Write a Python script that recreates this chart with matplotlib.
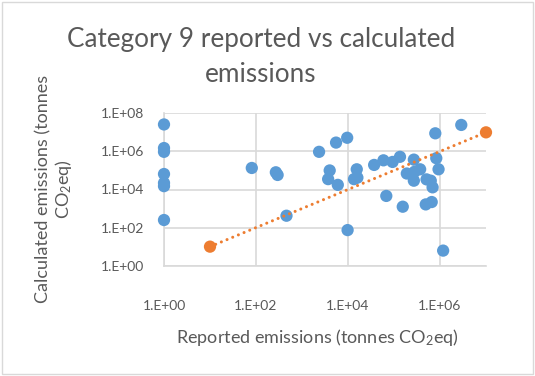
import math
import matplotlib
matplotlib.use("Agg")
import matplotlib.pyplot as plt
from matplotlib.ticker import FixedLocator, FuncFormatter, NullLocator
from matplotlib.patches import Rectangle

# reported (x) vs calculated (y) emissions, tonnes CO2eq
reported = [1, 1, 1, 1, 1, 1, 1,
            81, 270, 295, 460,
            2350, 5500, 9600, 9800, 4000, 3700, 6000,
            1.55e4, 1.35e4, 1.6e4, 3.7e4, 5.9e4, 9.3e4, 1.35e5,
            2.7e5, 1.9e5, 2.8e5, 3.7e5, 2.7e5, 5.1e5, 6.3e5, 6.9e5,
            7.9e5, 2.9e6, 8.3e5, 9.3e5,
            6.8e4, 1.55e5, 4.9e5, 6.6e5, 1.17e6]
calculated = [2.6e7, 1.5e6, 9.5e5, 6.5e4, 2.2e4, 1.5e4, 250,
              1.35e5, 8e4, 5.8e4, 420,
              9.5e5, 2.9e6, 5.2e6, 74, 1.0e5, 3.5e4, 1.75e4,
              1.15e5, 3.5e4, 4.2e4, 1.95e5, 3.4e5, 2.8e5, 5.2e5,
              3.7e5, 6.9e4, 8.5e4, 1.15e5, 2.9e4, 3.4e4, 2.9e4, 1.3e4,
              8.9e6, 2.45e7, 4.4e5, 1.15e5,
              4.6e3, 1.25e3, 1.65e3, 2.2e3, 6.2]

# 1:1 reference line end points
line_x = [10, 1e7]
line_y = [10, 1e7]

x_ticks = [1, 1e2, 1e4, 1e6]
y_ticks = [1, 1e2, 1e4, 1e6, 1e8]

plt.rcParams['font.family'] = ['Lato', 'DejaVu Sans']
plt.rcParams['mathtext.fontset'] = 'custom'
plt.rcParams['mathtext.rm'] = 'Lato'
plt.rcParams['mathtext.it'] = 'Lato'
text_col = '#595959'
grid_col = '#D9D9D9'
blue = '#5B9BD5'
orange = '#ED7D31'

W, H = 535, 376
fig = plt.figure(figsize=(W / 100, H / 100), dpi=100)
fig.patches.append(Rectangle((0.004, 0.004), 0.992, 0.992, transform=fig.transFigure,
                             fill=False, edgecolor=grid_col, lw=1))

left, right, top, bottom = 164, 486, 113.3, 265.7
ax = fig.add_axes([left / W, 1 - bottom / H, (right - left) / W, (bottom - top) / H])

ax.scatter(reported, calculated, s=78, color=blue, edgecolors='none', zorder=3,
           clip_on=False)
ax.plot(line_x, line_y, color=orange, lw=2.2, linestyle=(0, (0.01, 2.0)),
        dash_capstyle='round', zorder=4)
ax.scatter(line_x, line_y, s=78, color=orange, edgecolors='none', zorder=5,
           clip_on=False)

ax.set_xscale('log')
ax.set_yscale('log')
ax.set_xlim(1, 1e7)
ax.set_ylim(1, 1e8)
ax.xaxis.set_major_locator(FixedLocator(x_ticks))
ax.yaxis.set_major_locator(FixedLocator(y_ticks))
ax.xaxis.set_minor_locator(NullLocator())
ax.yaxis.set_minor_locator(NullLocator())
fmt = FuncFormatter(lambda v, p: '1.E+%02d' % round(math.log10(v)))
ax.xaxis.set_major_formatter(fmt)
ax.yaxis.set_major_formatter(fmt)

ax.grid(True, color=grid_col, lw=1.2)
ax.set_axisbelow(True)
for s in ['top', 'right']:
    ax.spines[s].set_visible(False)
for s in ['left', 'bottom']:
    ax.spines[s].set_color(grid_col)
    ax.spines[s].set_linewidth(1.2)
ax.tick_params(axis='both', length=0, labelsize=10, labelcolor=text_col)
ax.tick_params(axis='x', pad=25)
ax.tick_params(axis='y', pad=14)

fig.text(261 / W, 1 - 57 / H, 'Category 9 reported vs calculated\nemissions',
         ha='center', va='center', fontsize=18.8, color=text_col, linespacing=1.45)
fig.text(317 / W, 1 - 338 / H, 'Reported emissions (tonnes CO$_2$eq)',
         ha='center', va='center', fontsize=13, color=text_col)
fig.text(55 / W, 1 - 189 / H, 'Calculated emissions (tonnes\nCO$_2$eq)',
         ha='center', va='center', rotation=90, fontsize=13, color=text_col,
         multialignment='center', linespacing=1.1)

fig.savefig('out.png', dpi=100)
